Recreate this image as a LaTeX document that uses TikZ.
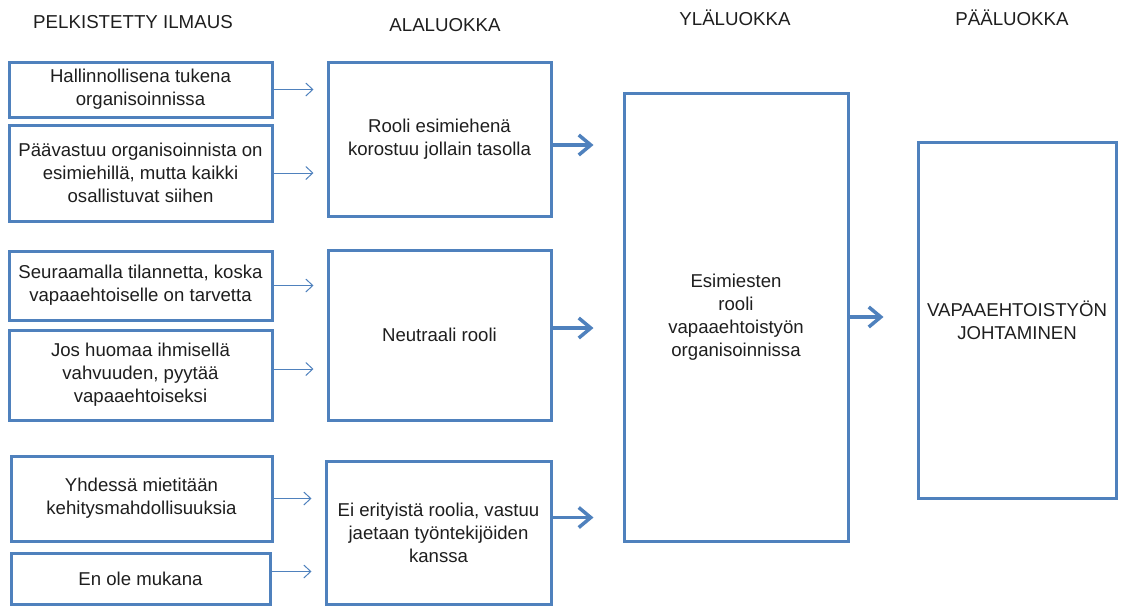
\documentclass[tikz,border=0pt]{standalone}
\usepackage{fontspec}
\setmainfont{Liberation Sans}
\usepackage{tikz}
\usetikzlibrary{arrows.meta}
\definecolor{officeBlue}{RGB}{79,129,189}
\definecolor{textGray}{RGB}{30,30,30}

\begin{document}
\begin{tikzpicture}[
            x=1pt, y=-1pt,
            every node/.style={font=\fontsize{18.6}{23}\selectfont, text=textGray},
            block/.style={rectangle, draw=officeBlue, line width=3pt, align=center, inner sep=0pt},
            head/.style={font=\fontsize{18.7}{22}\selectfont},
            thinarrow/.style={-{Straight Barb[length=7pt,width=13pt]}, draw=officeBlue, line width=1pt, shorten >=13pt},
            arrow/.style={-{Straight Barb[length=12pt,width=20pt]}, draw=officeBlue, line width=3.5pt}
        ]
            \useasboundingbox (0,0) rectangle (1121,606);

            % column titles
            \node[head] (t1) at (133,22) {PELKISTETTY ILMAUS};
            \node[head] (t2) at (445,25) {ALALUOKKA};
            \node[head] (t3) at (735,18) {YLÄLUOKKA};
            \node[head] (t4) at (1012,18) {PÄÄLUOKKA};

            % reduced expressions
            \node[block, minimum width=263, minimum height=55] (l1) at (140.5,89.5) {Hallinnollisena tukena\\organisoinnissa};
            \node[block, minimum width=263, minimum height=96] (l2) at (140.5,173) {Päävastuu organisoinnista on\\esimiehillä, mutta kaikki\\osallistuvat siihen};
            \node[block, minimum width=263, minimum height=69] (l3) at (140.5,285.5) {Seuraamalla tilannetta, koska\\vapaaehtoiselle on tarvetta};
            \node[block, minimum width=263, minimum height=90] (l4) at (140.5,375) {Jos huomaa ihmisellä\\vahvuuden, pyytää\\vapaaehtoiseksi};
            \node[block, minimum width=261, minimum height=85] (l5) at (141.5,498.5) {Yhdessä mietitään\\kehitysmahdollisuuksia};
            \node[block, minimum width=259, minimum height=51] (l6) at (140.5,578.5) {En ole mukana};

            % subcategories
            \node[block, minimum width=223, minimum height=154] (m1) at (439.5,139) {Rooli esimiehenä\\korostuu jollain tasolla};
            \node[block, minimum width=223, minimum height=170] (m2) at (439.5,335) {Neutraali rooli};
            \node[block, minimum width=225, minimum height=143] (m3) at (438.5,532.5) {Ei erityistä roolia, vastuu\\jaetaan työntekijöiden\\kanssa};

            % upper and main category
            \node[block, minimum width=224, minimum height=448] (u) at (736,317) {Esimiesten\\rooli\\vapaaehtoistyön\\organisoinnissa};
            \node[block, minimum width=198, minimum height=356] (p) at (1017,320) {VAPAAEHTOISTYÖN\\JOHTAMINEN};

            \draw[thinarrow] (l1.east) -- (l1.east -| m1.west);
            \draw[thinarrow] (l2.east) -- (l2.east -| m1.west);
            \draw[thinarrow] (l3.east) -- (l3.east -| m2.west);
            \draw[thinarrow] ([yshift=6pt]l4.east) -- ([yshift=6pt]l4.east -| m2.west);
            \draw[thinarrow] (l5.east) -- (l5.east -| m3.west);
            \draw[thinarrow] ([yshift=7pt]l6.east) -- ([yshift=7pt]l6.east -| m3.west);

            \draw[arrow, shorten >=29pt] ([yshift=-6pt]m1.east) -- ([yshift=-6pt]m1.east -| u.west);
            \draw[arrow, shorten >=29pt] ([yshift=7pt]m2.east) -- ([yshift=7pt]m2.east -| u.west);
            \draw[arrow, shorten >=29pt] ([yshift=15pt]m3.east) -- ([yshift=15pt]m3.east -| u.west);
            \draw[arrow, shorten >=33pt] (u.east) -- (u.east -| p.west);
        \end{tikzpicture}
\end{document}
